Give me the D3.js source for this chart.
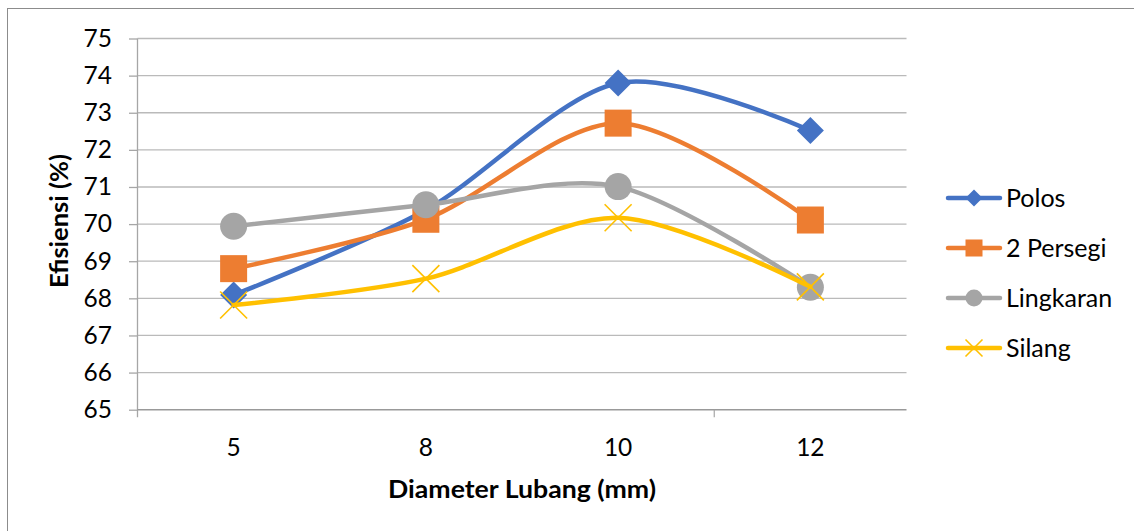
<!DOCTYPE html>
<html>
<head>
<meta charset="utf-8">
<script src="https://cdn.jsdelivr.net/npm/d3@7"></script>
<style>
  body { margin: 0; background: #fff; }
  svg { display: block; font-family: Lato, "Open Sans", sans-serif; }
</style>
</head>
<body>
<svg id="chart" width="1134" height="531"></svg>
<script>
// Hole diameter categories (mm)
const categories = ["5", "8", "10", "12"];

// Efficiency (%) per perforation pattern
const polos     = [68.09, 70.38, 73.80, 72.52];
const persegi   = [68.80, 70.13, 72.72, 70.11];
const lingkaran = [69.94, 70.52, 71.01, 68.30];
const silang    = [67.82, 68.53, 70.17, 68.31];

const seriesNames = ["Polos", "2 Persegi", "Lingkaran", "Silang"];
const yTicks = [65, 66, 67, 68, 69, 70, 71, 72, 73, 74, 75];

const xTitle = "Diameter Lubang (mm)";
const yTitle = "Efisiensi (%)";

const series = [
  { name: seriesNames[0], values: polos,     color: "#4472C4", marker: "diamond" },
  { name: seriesNames[1], values: persegi,   color: "#ED7D31", marker: "square" },
  { name: seriesNames[2], values: lingkaran, color: "#A5A5A5", marker: "circle" },
  { name: seriesNames[3], values: silang,    color: "#FFC000", marker: "cross" }
];

const svg = d3.select("#chart");
const plot = { left: 137.5, right: 906.5, top: 38.5, bottom: 409.7 };

const x = d3.scaleBand().domain(categories).range([plot.left, plot.right]);
const y = d3.scaleLinear().domain([65, 75]).range([plot.bottom, plot.top]);
const cx = c => x(c) + x.bandwidth() / 2;

// chart area frame
svg.append("rect")
  .attr("x", 7.5).attr("y", 8.5)
  .attr("width", 1200).attr("height", 600)
  .attr("fill", "#fff").attr("stroke", "#8c8c8c").attr("stroke-width", 1);

// horizontal gridlines
svg.append("g").selectAll("line").data(yTicks.slice(1)).join("line")
  .attr("x1", plot.left).attr("x2", plot.right)
  .attr("y1", d => y(d)).attr("y2", d => y(d))
  .attr("stroke", "#bababa").attr("stroke-width", 1.3);

// y axis
const yAxis = svg.append("g")
  .attr("transform", `translate(${plot.left},0)`)
  .call(d3.axisLeft(y).tickValues(yTicks).tickSize(8.5).tickPadding(17).tickFormat(d3.format("d")));
yAxis.select(".domain").remove();
yAxis.selectAll(".tick line").attr("stroke", "#a6a6a6").attr("stroke-width", 1.3);
yAxis.selectAll(".tick text")
  .attr("font-family", "Lato, 'Open Sans', sans-serif")
  .attr("font-size", 24.5).attr("fill", "#000");
svg.append("line")
  .attr("x1", plot.left).attr("x2", plot.left)
  .attr("y1", plot.top).attr("y2", plot.bottom + 7.5)
  .attr("stroke", "#a6a6a6").attr("stroke-width", 1.3);

// x axis line and a category boundary tick
svg.append("line")
  .attr("x1", plot.left).attr("x2", plot.right)
  .attr("y1", plot.bottom).attr("y2", plot.bottom)
  .attr("stroke", "#999").attr("stroke-width", 1.5);
svg.append("line")
  .attr("x1", x(categories[3])).attr("x2", x(categories[3]))
  .attr("y1", plot.bottom).attr("y2", plot.bottom + 7.5)
  .attr("stroke", "#a6a6a6").attr("stroke-width", 1.2);

// x tick labels
svg.append("g").selectAll("text").data(categories).join("text")
  .attr("x", d => cx(d)).attr("y", 455.5)
  .attr("text-anchor", "middle")
  .attr("font-size", 24.5).attr("fill", "#000")
  .text(d => d);

// axis titles
svg.append("text")
  .attr("x", (plot.left + plot.right) / 2).attr("y", 498)
  .attr("text-anchor", "middle")
  .attr("font-size", 25).attr("font-weight", "bold").attr("fill", "#000")
  .attr("textLength", 268).attr("lengthAdjust", "spacingAndGlyphs")
  .text(xTitle);
svg.append("text")
  .attr("transform", `translate(68,${(plot.top + plot.bottom) / 2 - 3}) rotate(-90)`)
  .attr("text-anchor", "middle")
  .attr("font-size", 24).attr("font-weight", "bold").attr("fill", "#000")
  .attr("textLength", 134).attr("lengthAdjust", "spacingAndGlyphs")
  .text(yTitle);

// marker drawing
function drawMarker(g, type, color, r) {
  if (type === "diamond") {
    g.append("path").attr("d", `M0,${-r}L${r},0L0,${r}L${-r},0Z`).attr("fill", color);
  } else if (type === "square") {
    g.append("rect").attr("x", -r).attr("y", -r).attr("width", 2 * r).attr("height", 2 * r).attr("fill", color);
  } else if (type === "circle") {
    g.append("circle").attr("r", r).attr("fill", color);
  } else {
    g.append("path").attr("d", `M${-r},${-r}L${r},${r}M${-r},${r}L${r},${-r}`)
      .attr("stroke", color).attr("stroke-width", 1.6).attr("fill", "none");
  }
}

const line = d3.line()
  .x((d, i) => cx(categories[i]))
  .y(d => y(d))
  .curve(d3.curveCardinal.tension(0.1));

// series: line then markers, in series order
series.forEach(s => {
  const g = svg.append("g");
  g.append("path")
    .attr("d", line(s.values))
    .attr("fill", "none").attr("stroke", s.color)
    .attr("stroke-width", 4.5).attr("stroke-linecap", "round").attr("stroke-linejoin", "round");
  s.values.forEach((v, i) => {
    const m = g.append("g").attr("transform", `translate(${cx(categories[i])},${y(v)})`);
    drawMarker(m, s.marker, s.color, 13.5);
  });
});

// legend
const legend = svg.append("g");
series.forEach((s, i) => {
  const ly = 198 + i * 50;
  const g = legend.append("g").attr("transform", `translate(0,${ly})`);
  g.append("line").attr("x1", 948).attr("x2", 1000).attr("y1", 0).attr("y2", 0)
    .attr("stroke", s.color).attr("stroke-width", 4.5).attr("stroke-linecap", "round");
  const m = g.append("g").attr("transform", "translate(974,0)");
  drawMarker(m, s.marker, s.color, 8.5);
  g.append("text").attr("x", 1006).attr("y", 0).attr("dy", "0.35em")
    .attr("font-size", 25).attr("fill", "#000")
    .text(s.name);
});
</script>
</body>
</html>
